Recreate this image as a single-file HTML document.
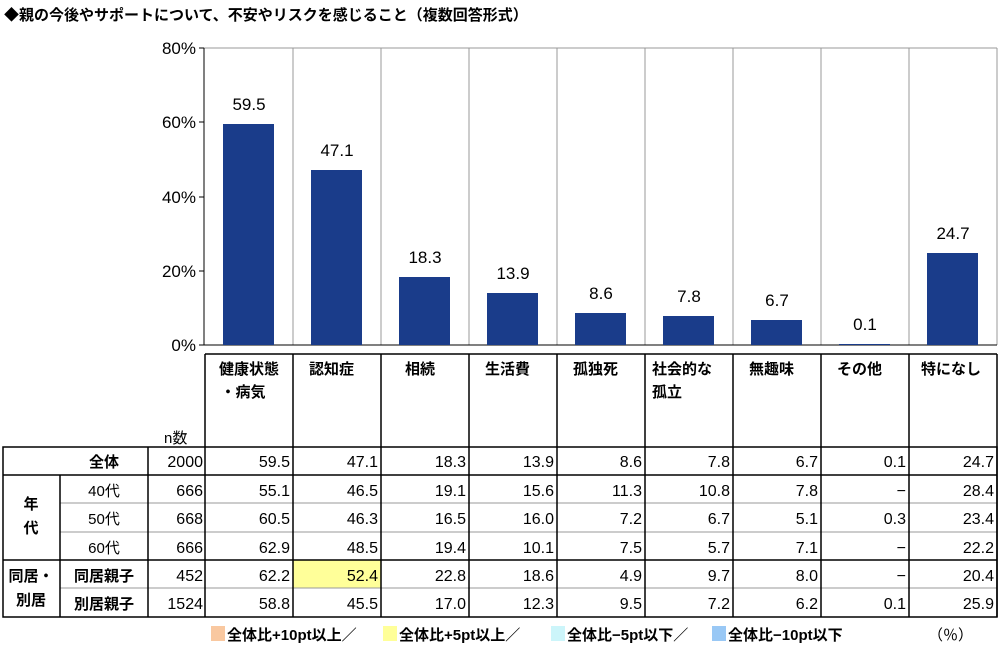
<!DOCTYPE html>
<html><head><meta charset="utf-8"><style>
body{margin:0;background:#fff}
svg{display:block}
text{font-family:"Liberation Sans","Noto Sans CJK JP",sans-serif;fill:#000}
.b{font-weight:bold}
</style></head><body>
<svg width="1000" height="647" viewBox="0 0 1000 647">
<text x="4" y="20" font-size="15" class="b">◆親の今後やサポートについて、不安やリスクを感じること（複数回答形式）</text>
<g stroke="#999" stroke-width="1" fill="none">
<line x1="204" y1="48" x2="997" y2="48"/>
<line x1="997" y1="48" x2="997" y2="345"/>
<line x1="293" y1="48" x2="293" y2="345"/><line x1="381" y1="48" x2="381" y2="345"/>
<line x1="469" y1="48" x2="469" y2="345"/><line x1="557" y1="48" x2="557" y2="345"/>
<line x1="645" y1="48" x2="645" y2="345"/><line x1="733" y1="48" x2="733" y2="345"/>
<line x1="821" y1="48" x2="821" y2="345"/><line x1="909" y1="48" x2="909" y2="345"/>
</g>
<g stroke="#000" stroke-width="1">
<line x1="204" y1="48" x2="204" y2="345"/>
<line x1="204" y1="345" x2="997" y2="345"/>
<line x1="199" y1="48" x2="204" y2="48"/><line x1="199" y1="122" x2="204" y2="122"/>
<line x1="199" y1="197" x2="204" y2="197"/><line x1="199" y1="271" x2="204" y2="271"/>
<line x1="199" y1="345" x2="204" y2="345"/>
</g>
<g font-size="17" text-anchor="end">
<text x="196" y="54">80%</text><text x="196" y="128">60%</text>
<text x="196" y="203">40%</text><text x="196" y="277">20%</text><text x="196" y="351">0%</text>
</g>
<g fill="#1a3c8a">
<rect x="223" y="124" width="51" height="221"/>
<rect x="311" y="170" width="51" height="175"/>
<rect x="399" y="277" width="51" height="68"/>
<rect x="487" y="293" width="51" height="52"/>
<rect x="575" y="313" width="51" height="32"/>
<rect x="663" y="316" width="51" height="29"/>
<rect x="751" y="320" width="51" height="25"/>
<rect x="839" y="344" width="51" height="1"/>
<rect x="927" y="253" width="51" height="92"/>
</g>
<g font-size="17" text-anchor="middle">
<text x="249" y="110">59.5</text><text x="337" y="156">47.1</text>
<text x="425" y="263">18.3</text><text x="513" y="279">13.9</text>
<text x="601" y="299">8.6</text><text x="689" y="302">7.8</text>
<text x="777" y="306">6.7</text><text x="865" y="330">0.1</text>
<text x="953" y="239">24.7</text>
</g>
<rect x="293" y="560" width="88" height="28" fill="#ffff99"/>
<g stroke="#999" stroke-width="1">
<line x1="60" y1="503" x2="997" y2="503"/><line x1="60" y1="532" x2="997" y2="532"/>
<line x1="60" y1="588" x2="997" y2="588"/>
</g>
<g stroke="#000" stroke-width="1.5" fill="none">
<line x1="205" y1="354" x2="997" y2="354"/>
<rect x="3" y="447" width="994" height="170"/>
<line x1="3" y1="475" x2="997" y2="475"/>
<line x1="3" y1="560" x2="997" y2="560"/>
<line x1="60" y1="475" x2="60" y2="617"/>
<line x1="148" y1="447" x2="148" y2="617"/>
<line x1="205" y1="354" x2="205" y2="617"/>
<line x1="293" y1="354" x2="293" y2="617"/><line x1="381" y1="354" x2="381" y2="617"/>
<line x1="469" y1="354" x2="469" y2="617"/><line x1="557" y1="354" x2="557" y2="617"/>
<line x1="645" y1="354" x2="645" y2="617"/><line x1="733" y1="354" x2="733" y2="617"/>
<line x1="821" y1="354" x2="821" y2="617"/><line x1="909" y1="354" x2="909" y2="617"/>
<line x1="997" y1="354" x2="997" y2="617"/>
</g>
<g font-size="15" class="b">
<text x="249" y="374" text-anchor="middle">健康状態</text><text x="243" y="397" text-anchor="middle">・病気</text>
<text x="309" y="374">認知症</text><text x="405" y="374">相続</text>
<text x="485" y="374">生活費</text><text x="573" y="374">孤独死</text>
<text x="652" y="374">社会的な</text><text x="652" y="397">孤立</text>
<text x="749" y="374">無趣味</text><text x="837" y="374">その他</text>
<text x="921" y="374">特になし</text>
<text x="164" y="443" style="font-weight:normal">n数</text>
<text x="104" y="467" text-anchor="middle">全体</text>
<text x="104" y="496" text-anchor="middle" style="font-weight:normal">40代</text><text x="104" y="524" text-anchor="middle" style="font-weight:normal">50代</text><text x="104" y="553" text-anchor="middle" style="font-weight:normal">60代</text>
<text x="104" y="581" text-anchor="middle">同居親子</text><text x="104" y="609" text-anchor="middle">別居親子</text>
<text x="31" y="509" text-anchor="middle">年</text><text x="31" y="533" text-anchor="middle">代</text>
<text x="31" y="581" text-anchor="middle">同居・</text><text x="31" y="605" text-anchor="middle">別居</text>
</g>
<g font-size="16" text-anchor="end">
<text x="203" y="467">2000</text><text x="203" y="496">666</text><text x="203" y="524">668</text>
<text x="203" y="553">666</text><text x="203" y="581">452</text><text x="203" y="609">1524</text>
</g>
<g font-size="16" text-anchor="end">
<text y="467"><tspan x="290">59.5</tspan><tspan x="378">47.1</tspan><tspan x="466">18.3</tspan><tspan x="554">13.9</tspan><tspan x="642">8.6</tspan><tspan x="730">7.8</tspan><tspan x="818">6.7</tspan><tspan x="906">0.1</tspan><tspan x="994">24.7</tspan></text>
<text y="496"><tspan x="290">55.1</tspan><tspan x="378">46.5</tspan><tspan x="466">19.1</tspan><tspan x="554">15.6</tspan><tspan x="642">11.3</tspan><tspan x="730">10.8</tspan><tspan x="818">7.8</tspan><tspan x="906">−</tspan><tspan x="994">28.4</tspan></text>
<text y="524"><tspan x="290">60.5</tspan><tspan x="378">46.3</tspan><tspan x="466">16.5</tspan><tspan x="554">16.0</tspan><tspan x="642">7.2</tspan><tspan x="730">6.7</tspan><tspan x="818">5.1</tspan><tspan x="906">0.3</tspan><tspan x="994">23.4</tspan></text>
<text y="553"><tspan x="290">62.9</tspan><tspan x="378">48.5</tspan><tspan x="466">19.4</tspan><tspan x="554">10.1</tspan><tspan x="642">7.5</tspan><tspan x="730">5.7</tspan><tspan x="818">7.1</tspan><tspan x="906">−</tspan><tspan x="994">22.2</tspan></text>
<text y="581"><tspan x="290">62.2</tspan><tspan x="378">52.4</tspan><tspan x="466">22.8</tspan><tspan x="554">18.6</tspan><tspan x="642">4.9</tspan><tspan x="730">9.7</tspan><tspan x="818">8.0</tspan><tspan x="906">−</tspan><tspan x="994">20.4</tspan></text>
<text y="609"><tspan x="290">58.8</tspan><tspan x="378">45.5</tspan><tspan x="466">17.0</tspan><tspan x="554">12.3</tspan><tspan x="642">9.5</tspan><tspan x="730">7.2</tspan><tspan x="818">6.2</tspan><tspan x="906">0.1</tspan><tspan x="994">25.9</tspan></text>
</g>
<rect x="211" y="626" width="14" height="15" fill="#f9c8a0"/>
<rect x="383" y="626" width="14" height="15" fill="#ffff99"/>
<rect x="551" y="626" width="14" height="15" fill="#ccf5fa"/>
<rect x="712" y="626" width="14" height="15" fill="#99c8f5"/>
<g font-size="15" class="b">
<text x="227" y="640">全体比+10pt以上／</text>
<text x="399" y="640">全体比+5pt以上／</text>
<text x="567" y="640">全体比−5pt以下／</text>
<text x="728" y="640">全体比−10pt以下</text>
<text x="928" y="640" style="font-weight:normal">（％）</text>
</g>
</svg>
</body></html>
